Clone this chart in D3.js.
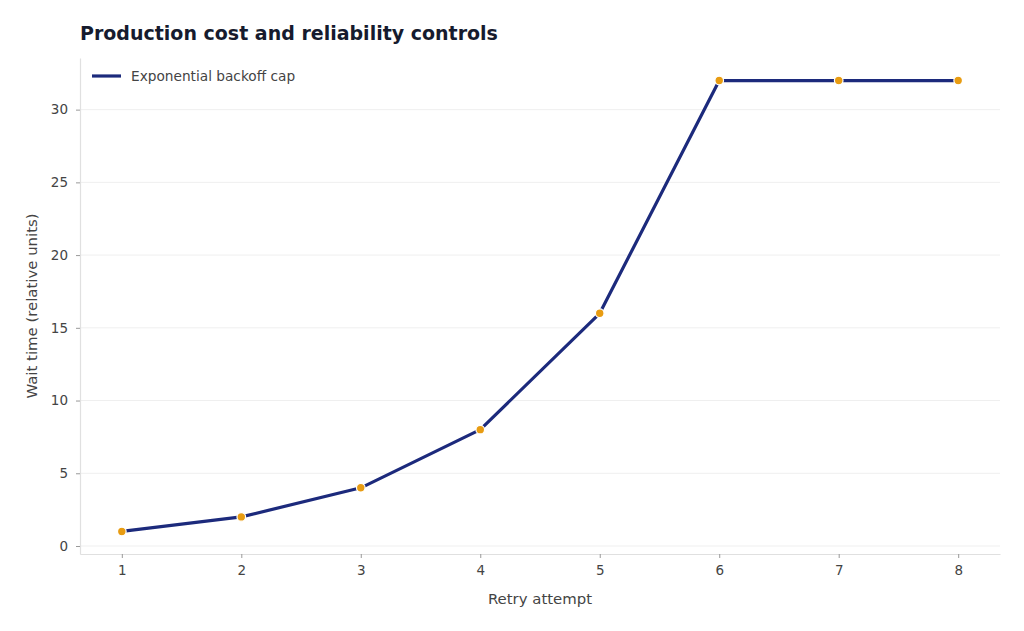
<!DOCTYPE html>
<html>
<head>
<meta charset="UTF-8">
<title>Production cost and reliability controls</title>
<script src="https://cdn.jsdelivr.net/npm/d3@7"></script>
<style>
	body { margin: 0; background: #fff; }
	svg { display: block; font-family: "DejaVu Sans", sans-serif; }
	.title { font-size: 19px; font-weight: bold; fill: #161b2e; }
	.tick line { stroke: #999; }
	.axis .domain { stroke: #e0e0e0; stroke-width: 1.2px; }
	.grid line { stroke: #efefef; stroke-width: 1px; }
	.label { font-size: 14.9px; fill: #444; }
	.legend text { font-size: 13.7px; fill: #444; }
</style>
</head>
<body>
<svg id="chart" width="1024" height="631"></svg>
<script>
	const attempts = [1, 2, 3, 4, 5, 6, 7, 8];
	const waitTimes = [1, 2, 4, 8, 16, 32, 32, 32];
	const yTicks = [0, 5, 10, 15, 20, 25, 30];
	const seriesName = 'Exponential backoff cap';

	const svg = d3.select('#chart');
	const plotL = 80, plotR = 1000, plotT = 58, plotB = 554;

	const x = d3.scaleLinear().domain([0.65, 8.35]).range([plotL, plotR]);
	const y = d3.scaleLinear().domain([-0.55, 33.55]).range([plotB, plotT]);

	// grid
	svg.append('g').attr('class', 'grid')
		.selectAll('line').data(yTicks).enter().append('line')
		.attr('x1', plotL).attr('x2', plotR)
		.attr('y1', d => y(d)).attr('y2', d => y(d));

	// axes
	svg.append('g').attr('class', 'axis')
		.attr('transform', `translate(0,${plotB})`)
		.call(d3.axisBottom(x).tickValues(attempts).tickSize(4).tickPadding(7).tickSizeOuter(0));
	svg.append('g').attr('class', 'axis')
		.attr('transform', `translate(${plotL},0)`)
		.call(d3.axisLeft(y).tickValues(yTicks).tickSize(4).tickPadding(8).tickSizeOuter(0));
	svg.selectAll('.axis')
		.attr('font-family', '"DejaVu Sans", sans-serif')
		.attr('font-size', 13.5)
		.selectAll('.tick text').attr('fill', '#444');

	svg.append('text').attr('class', 'label')
		.attr('x', (plotL + plotR) / 2).attr('y', 604)
		.attr('text-anchor', 'middle').text('Retry attempt');
	svg.append('text').attr('class', 'label')
		.attr('transform', `translate(37,${(plotT + plotB) / 2}) rotate(-90)`)
		.attr('text-anchor', 'middle').text('Wait time (relative units)');

	svg.append('text').attr('class', 'title')
		.attr('x', 80).attr('y', 40).text('Production cost and reliability controls');

	// series
	const pts = attempts.map((a, i) => ({ x: a, y: waitTimes[i] }));
	svg.append('path').datum(pts)
		.attr('fill', 'none').attr('stroke', '#1c2a7c').attr('stroke-width', 3.2)
		.attr('stroke-linejoin', 'round').attr('stroke-linecap', 'round')
		.attr('d', d3.line().x(d => x(d.x)).y(d => y(d.y)));
	svg.append('g').selectAll('circle').data(pts).enter().append('circle')
		.attr('cx', d => x(d.x)).attr('cy', d => y(d.y)).attr('r', 4.3)
		.attr('fill', '#e89c12').attr('stroke', '#fff').attr('stroke-width', 1.2);

	// legend
	const lg = svg.append('g').attr('class', 'legend');
	lg.append('line').attr('x1', 92).attr('x2', 121).attr('y1', 76).attr('y2', 76)
		.attr('stroke', '#1c2a7c').attr('stroke-width', 3.2);
	lg.append('text').attr('x', 131).attr('y', 81).text(seriesName);
</script>
</body>
</html>
